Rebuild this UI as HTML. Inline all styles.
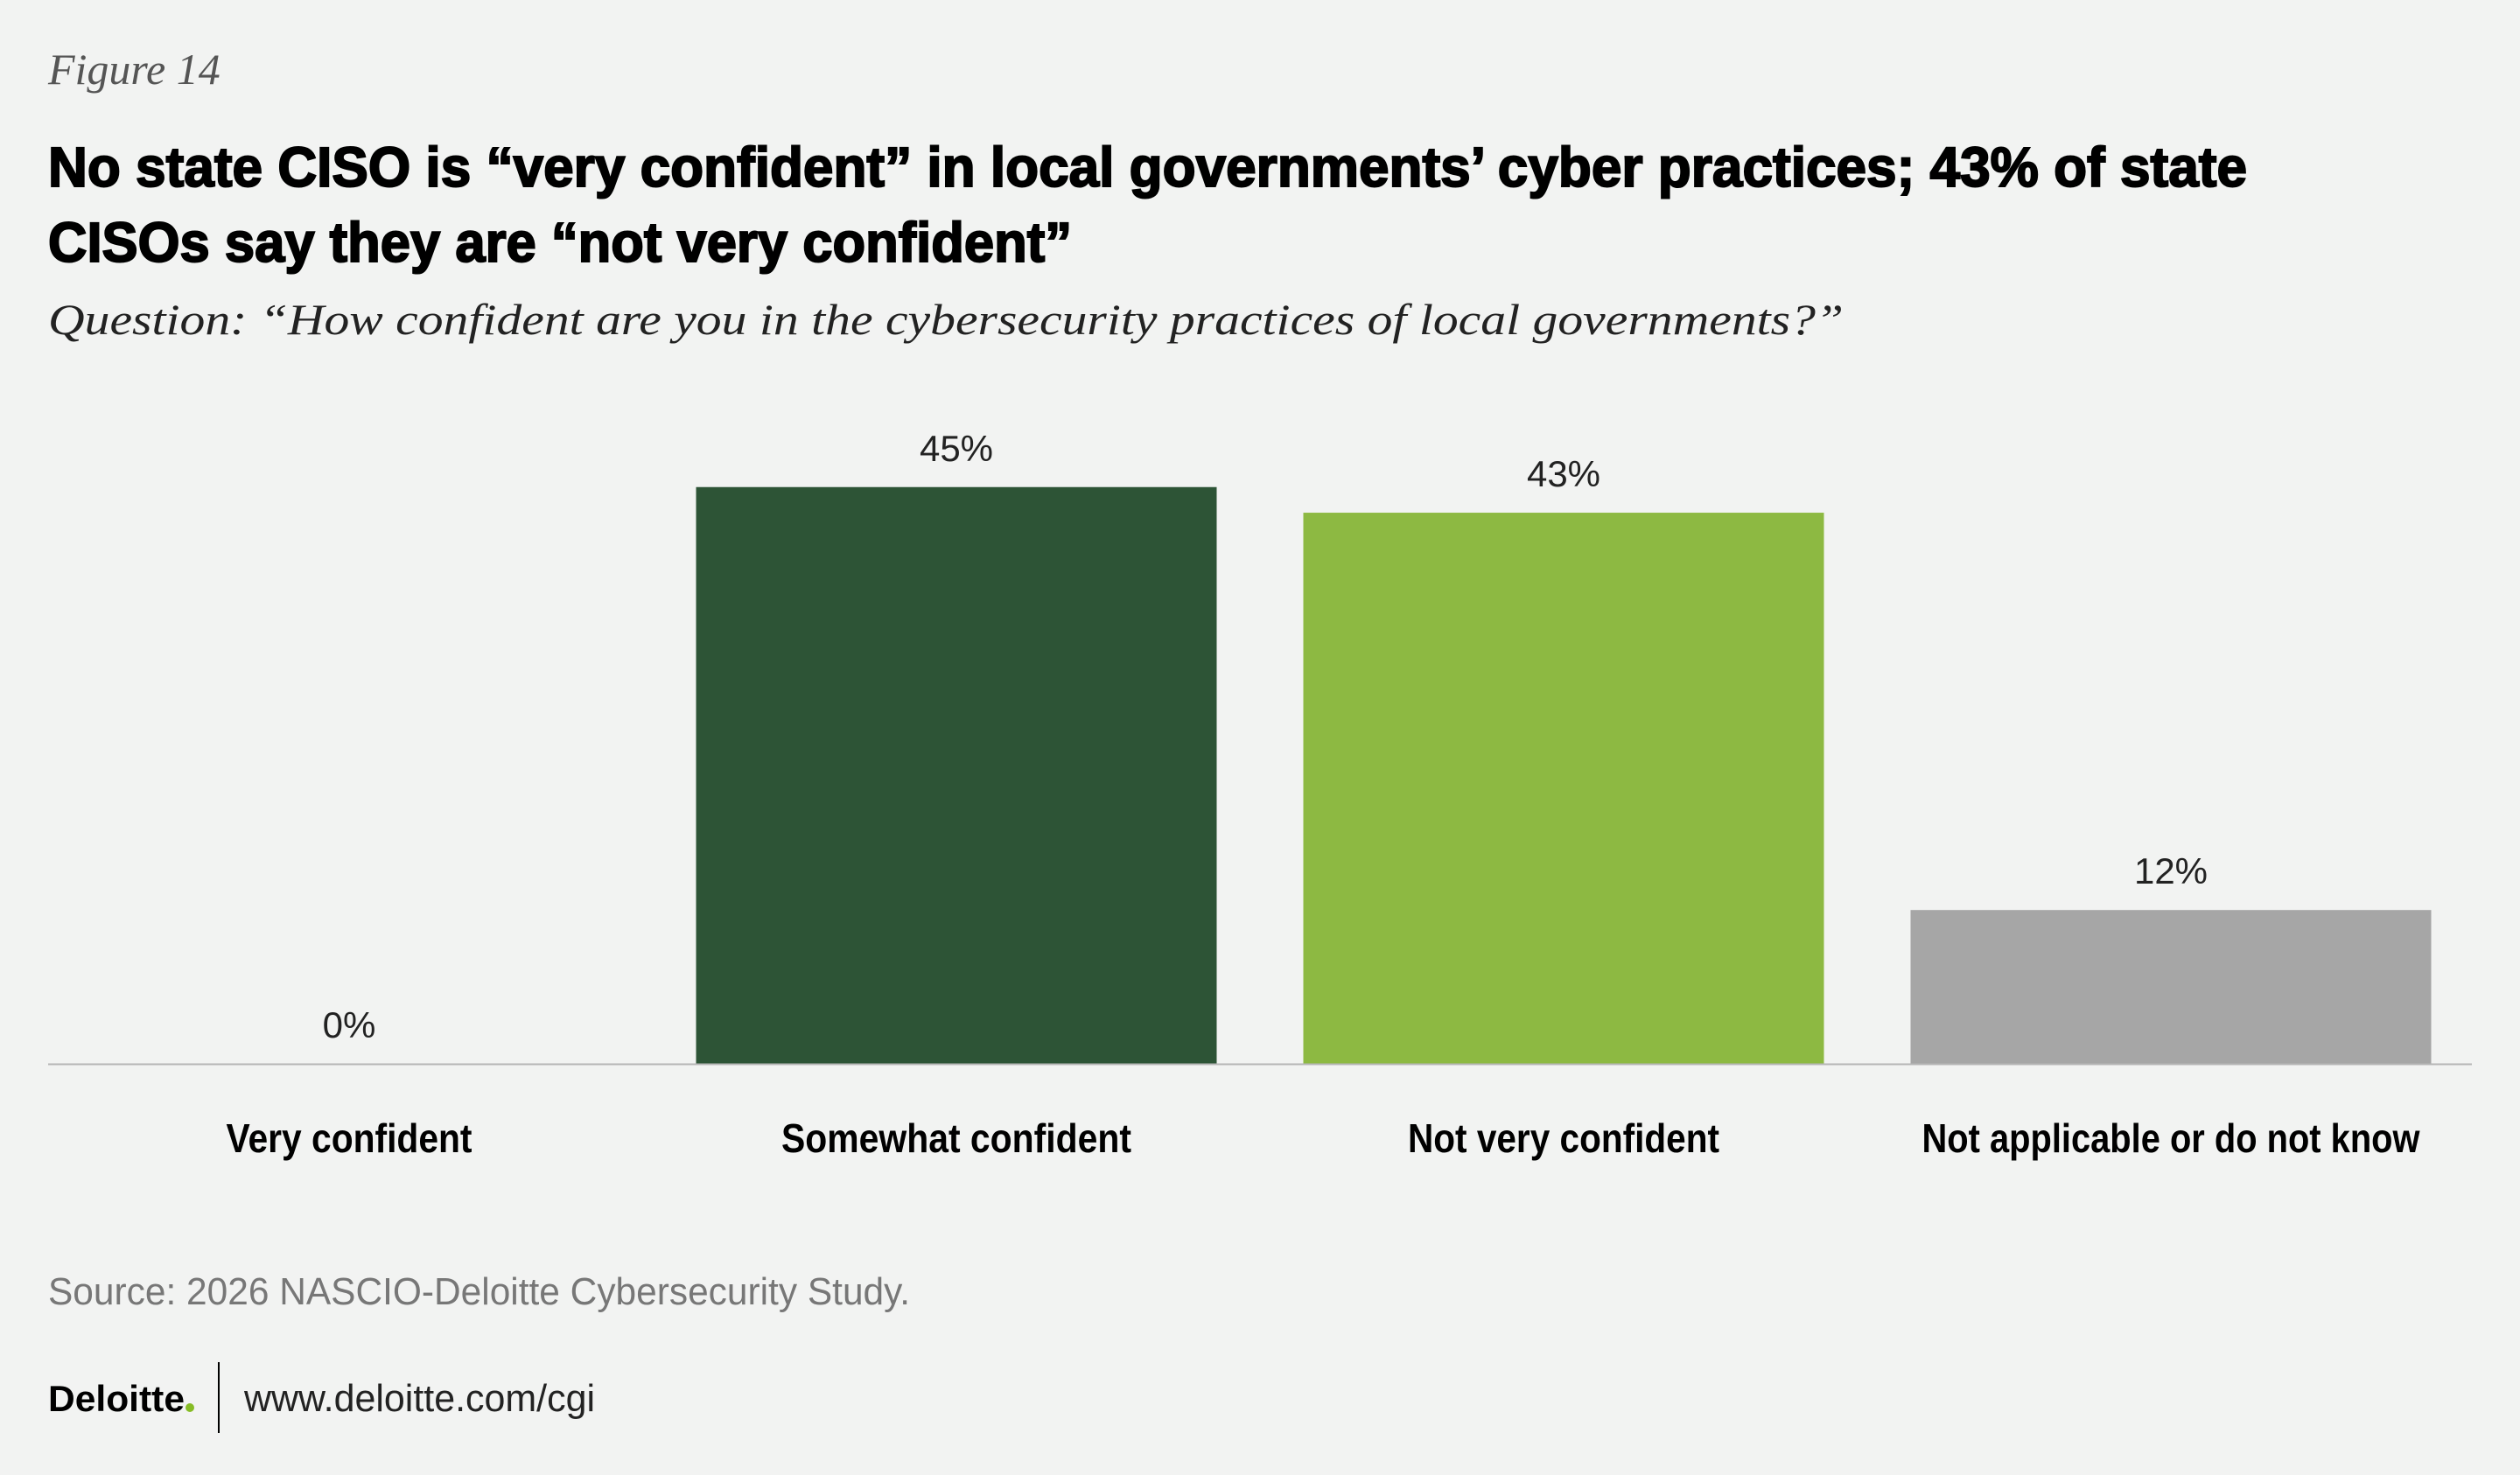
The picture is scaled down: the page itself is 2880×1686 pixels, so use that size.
<!DOCTYPE html>
<html><head><meta charset="utf-8"><style>
html,body{margin:0;padding:0;background:#f2f3f2;}
svg{display:block;}
</style></head><body>
<svg width="2880" height="1686" viewBox="0 0 2880 1686" xmlns="http://www.w3.org/2000/svg">
<rect width="2880" height="1686" fill="#f2f3f2"/>
<text x="55" y="96" font-family="Liberation Serif, serif" font-style="italic" font-size="50" fill="#555">Figure 14</text>
<text x="55" y="213" font-family="Liberation Sans, sans-serif" font-weight="bold" font-size="64" fill="#000" stroke="#000" stroke-width="2" textLength="2513" lengthAdjust="spacingAndGlyphs">No state CISO is “very confident” in local governments’ cyber practices; 43% of state</text>
<text x="55" y="299" font-family="Liberation Sans, sans-serif" font-weight="bold" font-size="64" fill="#000" stroke="#000" stroke-width="2" textLength="1170" lengthAdjust="spacingAndGlyphs">CISOs say they are “not very confident”</text>
<text x="55" y="382" font-family="Liberation Serif, serif" font-style="italic" font-size="50" fill="#222" textLength="2052" lengthAdjust="spacingAndGlyphs">Question: “How confident are you in the cybersecurity practices of local governments?”</text>
<g id="plot"></g>
<line x1="55" y1="1216.5" x2="2825" y2="1216.5" stroke="#b5b5b5" stroke-width="2"/>
<text x="55" y="1491" font-family="Liberation Sans, sans-serif" font-size="44" fill="#777" textLength="985" lengthAdjust="spacingAndGlyphs">Source: 2026 NASCIO-Deloitte Cybersecurity Study.</text>
<text x="55" y="1613" font-family="Liberation Sans, sans-serif" font-weight="bold" font-size="42" fill="#000" textLength="156" lengthAdjust="spacingAndGlyphs">Deloitte</text>
<circle cx="217" cy="1609" r="5" fill="#86bc25"/>
<line x1="250" y1="1557" x2="250" y2="1638" stroke="#000" stroke-width="2"/>
<text x="279" y="1613" font-family="Liberation Sans, sans-serif" font-size="44" fill="#222" textLength="401" lengthAdjust="spacingAndGlyphs">www.deloitte.com/cgi</text>
</svg>
<script>
const categories = ["Very confident","Somewhat confident","Not very confident","Not applicable or do not know"];
const values = [0,45,43,12];
const valueLabels = ["0%","45%","43%","12%"];
const colors = ["#2d5436","#2d5436","#8db942","#a6a6a6"];
const labelWidths = [281,400,356,569];

const ns = "http://www.w3.org/2000/svg";
const g = document.getElementById("plot");
const baseY = 1216, pxPerPct = 14.65;
const x0 = 399, step = 694, barW = 595;
function xCenter(i){ return x0 + i*step; }
function yScale(v){ return baseY - v*pxPerPct; }

categories.forEach((c,i)=>{
  const cx = xCenter(i);
  if(values[i] > 0){
    const r = document.createElementNS(ns,"rect");
    r.setAttribute("x", cx - barW/2);
    r.setAttribute("y", yScale(values[i]));
    r.setAttribute("width", barW);
    r.setAttribute("height", baseY - yScale(values[i]));
    r.setAttribute("fill", colors[i]);
    
    
    g.appendChild(r);
  }
  const t = document.createElementNS(ns,"text");
  t.setAttribute("x", cx);
  t.setAttribute("y", yScale(values[i]) - 30);
  t.setAttribute("text-anchor","middle");
  t.setAttribute("font-family","Liberation Sans, sans-serif");
  t.setAttribute("font-size","42");
  t.setAttribute("fill","#222");
  t.textContent = valueLabels[i];
  
  
  g.appendChild(t);
  const l = document.createElementNS(ns,"text");
  l.setAttribute("x", cx - labelWidths[i]/2);
  l.setAttribute("y", 1317);
  l.setAttribute("font-family","Liberation Sans, sans-serif");
  l.setAttribute("font-weight","bold");
  l.setAttribute("font-size","46");
  l.setAttribute("fill","#000");
  l.setAttribute("textLength", labelWidths[i]);
  l.setAttribute("lengthAdjust","spacingAndGlyphs");
  l.textContent = c;
  
  
  g.appendChild(l);
});
</script>
</body></html>
